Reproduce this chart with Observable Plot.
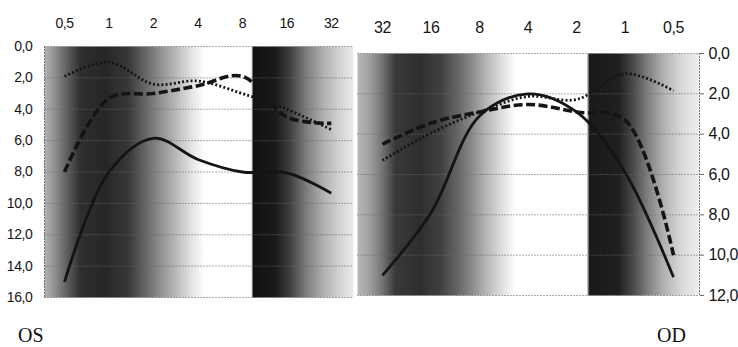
<!DOCTYPE html>
<html><head><meta charset="utf-8">
<script src="https://cdn.jsdelivr.net/npm/d3@7"></script>
<script src="https://cdn.jsdelivr.net/npm/@observablehq/plot@0.6"></script>
<style>
body{margin:0;background:#fff;}
#wrap{position:relative;width:738px;height:347px;overflow:hidden;background:#fff;}
#left{position:absolute;left:0;top:0;}
#right{position:absolute;left:355px;top:0;}
.eye{position:absolute;font-family:"Liberation Serif","DejaVu Serif",serif;font-size:20px;color:#111;line-height:normal;}
</style></head><body>
<div id="wrap"><div id="left"></div><div id="right"></div>
<div class="eye" style="left:18px;top:324px">OS</div>
<div class="eye" style="left:657px;top:324px">OD</div></div>
<script>
// ---- data ----
const catsOS = ["0,5","1","2","4","8","16","32"];
const solidOS  = [15.0, 8.0, 5.85, 7.2, 8.0, 8.05, 9.35];
const dashedOS = [8.0, 3.3, 3.0, 2.5, 1.9, 4.5, 4.9];
const dottedOS = [1.9, 1.0, 2.4, 2.2, 3.0, 4.0, 5.3];

const catsOD = ["32","16","8","4","2","1","0,5"];
const solidOD  = [11.0, 7.9, 3.1, 2.0, 2.9, 5.9, 11.1];
const dashedOD = [4.5, 3.45, 2.9, 2.53, 2.9, 3.3, 10.0];
const dottedOD = [5.3, 3.95, 2.9, 2.13, 2.28, 1.0, 1.85];

const yTicksOS = [0,2,4,6,8,10,12,14,16];
const yTicksOD = [0,2,4,6,8,10,12];

// background shading (position in category-index units, darkness 0..1)
const shadePosOS = [-0.45,-0.2,0.09,0.36,0.92,1.44,1.82,2.2,2.56,2.88,3.17,4.2,4.25,4.74,5.08,5.42,5.8,6.16,6.5];
const shadeOS    = [0.30,0.45,0.65,0.82,0.85,0.78,0.60,0.42,0.25,0.10,0.0,0.0,0.93,0.90,0.75,0.52,0.32,0.18,0.08];
const shadePosOD = [-0.515,-0.25,0,0.27,0.78,1.2,1.51,1.81,2.12,2.43,2.74,4.21,4.27,4.87,5.15,5.48,5.81,6.19,6.536];
const shadeOD    = [0.28,0.38,0.55,0.78,0.82,0.75,0.62,0.48,0.30,0.14,0.0,0.0,0.90,0.88,0.72,0.50,0.30,0.14,0.06];

const fmt = d => d.toFixed(1).replace(".", ",");
const font = "'Liberation Sans Narrow','Liberation Sans',Arial,sans-serif";
const ink = "#141414";

function addGradient(chart, id, pos, dark) {
  const ns = "http://www.w3.org/2000/svg";
  const sx = chart.scale("x");
  const svg = chart.tagName.toLowerCase() === "svg" ? chart : chart.querySelector("svg");
  const defs = document.createElementNS(ns, "defs");
  const g = document.createElementNS(ns, "linearGradient");
  g.setAttribute("id", id);
  g.setAttribute("gradientUnits", "userSpaceOnUse");
  const x0 = sx.apply(pos[0]), x1 = sx.apply(pos[pos.length - 1]);
  g.setAttribute("x1", x0); g.setAttribute("x2", x1);
  g.setAttribute("y1", 0); g.setAttribute("y2", 0);
  pos.forEach((p, k) => {
    const st = document.createElementNS(ns, "stop");
    st.setAttribute("offset", (sx.apply(p) - x0) / (x1 - x0));
    const v = Math.round(255 * (1 - dark[k]));
    st.setAttribute("stop-color", `rgb(${v},${v},${v})`);
    g.appendChild(st);
  });
  defs.appendChild(g);
  svg.insertBefore(defs, svg.firstChild);
}

function panel(o) {
  const idx = d3.range(o.cats.length);
  const lineOpts = (arr, extra) => ({x: i => i, y: i => arr[i], curve: "catmull-rom", stroke: ink, strokeLinecap: "butt", strokeLinejoin: "round", ...extra});
  return Plot.plot({
    width: o.width, height: 305,
    marginLeft: o.ml, marginRight: o.mr, marginTop: o.mt, marginBottom: o.mb,
    style: {fontFamily: font, fontSize: o.fs + "px", color: ink, background: "transparent", overflow: "visible", letterSpacing: "-0.4px"},
    x: {domain: o.xdom, axis: null},
    y: {domain: [0, o.ymax], reverse: true, axis: null},
    marks: [
      Plot.frame({fill: `url(#${o.gid})`, stroke: null}),
      Plot.gridY(o.yTicks, {stroke: "#6a6a6a", strokeOpacity: 0.55, strokeDasharray: "2,1"}),
      Plot.ruleX([o.edge], {stroke: "#555", strokeOpacity: 0.8, strokeDasharray: "2,1"}),
      Plot.axisX(idx, {anchor: "top", tickSize: 0, tickPadding: o.tp, tickFormat: i => o.cats[i], fontSize: o.fs}),
      Plot.axisY(o.yTicks, {anchor: o.yAnchor, tickSize: o.ts, tickPadding: o.ytp, tickFormat: fmt, stroke: "#666", fontSize: o.fs}),
      Plot.line(idx, lineOpts(o.dotted, {strokeWidth: 2.8, strokeDasharray: "2,2.2"})),
      Plot.line(idx, lineOpts(o.dashed, {strokeWidth: 3.6, strokeDasharray: "9,3.5"})),
      Plot.line(idx, lineOpts(o.solid, {strokeWidth: 2.8}))
    ]
  });
}

const left = panel({
  cats: catsOS, solid: solidOS, dashed: dashedOS, dotted: dottedOS,
  width: 358, ml: 44, mr: 5, mt: 46, mb: 8, xdom: [-0.45, 6.5], ymax: 16, yTicks: yTicksOS,
  edge: -0.45, gid: "gOS", fs: 14, tp: 19, yAnchor: "left", ts: 0, ytp: 12
});
addGradient(left, "gOS", shadePosOS, shadeOS);
document.getElementById("left").appendChild(left);

const right = panel({
  cats: catsOD, solid: solidOD, dashed: dashedOD, dotted: dottedOD,
  width: 383, ml: 2, mr: 39, mt: 53, mb: 10, xdom: [-0.515, 6.536], ymax: 12, yTicks: yTicksOD,
  edge: 6.536, gid: "gOD", fs: 16, tp: 21, yAnchor: "right", ts: 4, ytp: 5
});
addGradient(right, "gOD", shadePosOD, shadeOD);
document.getElementById("right").appendChild(right);
</script>
</body></html>
